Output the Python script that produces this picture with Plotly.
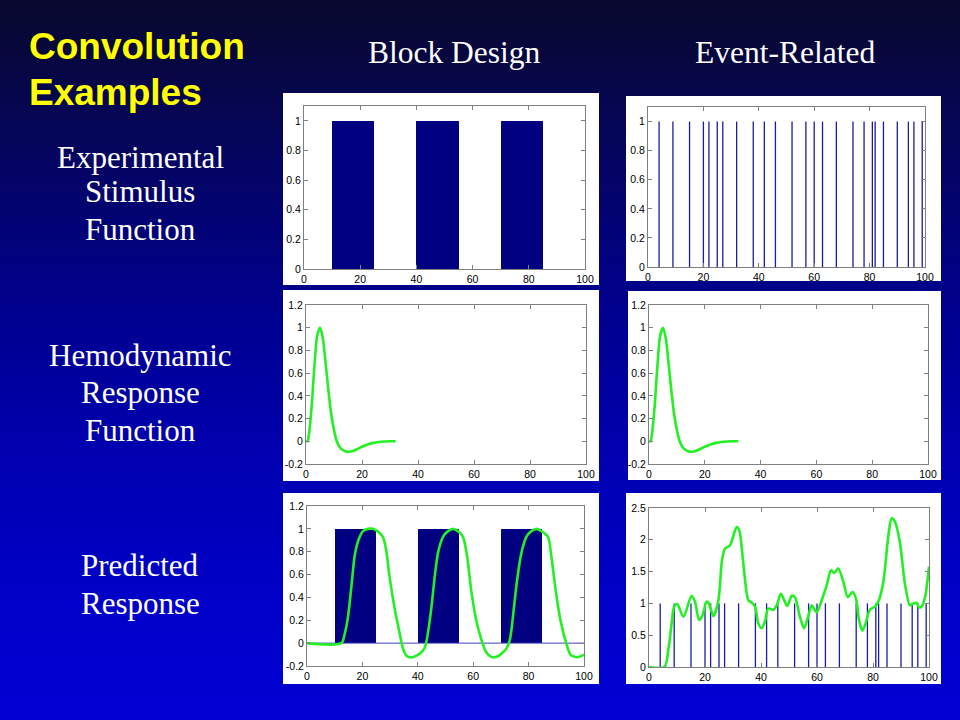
import plotly.graph_objects as go

# ---------------- data ----------------
T_START, T_END = 0, 100

block_onsets = [10, 40, 70]
block_offsets = [25, 55, 85]
block_amplitude = 1

event_times = [4, 9, 15, 20, 22, 25, 27, 32, 38, 42, 46, 52, 57, 60, 63, 68,
               74, 78, 81, 82, 85, 90, 94, 96, 99]
event_amplitude = 1

hrf_t = [0, 0.5, 1, 2, 3, 4, 5, 6, 7, 8, 9, 10, 11, 12, 13, 14, 15, 16, 17,
         18, 19, 20, 22, 24, 26, 28, 30, 32]
hrf_v = [0, 0.0, 0.05, 0.3, 0.66, 0.93, 1.0, 0.91, 0.69, 0.45, 0.24, 0.1, 0.0,
         -0.05, -0.075, -0.087, -0.092, -0.09, -0.083, -0.072, -0.06, -0.048,
         -0.028, -0.014, -0.006, -0.002, 0.0, 0.0]

block_pred_t = [0, 12.4, 13.6, 14.8, 16, 17.2, 18.4, 20.2, 22, 23.8, 25.4, 27.4,
                28.6, 29.8, 31.6, 33.5, 34.7, 35.9, 37.7, 39.5, 41.3, 42.5, 43.4,
                44.9, 46.1, 47.3, 49.1, 50.9, 52.7, 54.5, 56.3, 57.8, 59.3, 61.1,
                62.9, 64.7, 66.5, 68.4, 70.8, 72.2, 73.4, 74.7, 75.9, 77.4, 79.2,
                81, 82.8, 84.6, 87, 88.2, 89.8, 91.5, 93.7, 95.1, 96.6, 98.4, 100]
block_pred_v = [0, 0, 0.08, 0.23, 0.49, 0.76, 0.89, 0.98, 1.0, 1.0, 0.98, 0.93,
                0.81, 0.58, 0.31, 0.08, -0.05, -0.11, -0.125, -0.11, -0.08, -0.04,
                0.05, 0.31, 0.58, 0.79, 0.93, 0.98, 1.0, 0.98, 0.93, 0.76, 0.46,
                0.2, 0.035, -0.08, -0.12, -0.12, -0.08, -0.04, 0.05, 0.31, 0.56,
                0.79, 0.93, 0.98, 1.0, 0.98, 0.93, 0.76, 0.46, 0.2, -0.01, -0.1,
                -0.12, -0.12, -0.1]

event_pred_t = [0, 5.5, 6.9, 8.1, 9, 10.1, 12.3, 15.2, 16.4, 17.9, 19, 20.6, 21.4,
                23, 24.8, 26, 27.1, 28.9, 31.3, 32.3, 33.7, 35.5, 36.7, 37.9, 39,
                40.2, 41.4, 42.6, 44.4, 45.6, 47.1, 48.3, 49.4, 51, 52.1, 53.9,
                55.4, 56.7, 58.1, 58.9, 59.9, 61.7, 63.5, 65, 66.2, 67.6, 69.4, 71,
                72.7, 73.9, 75, 76.2, 77.4, 78.9, 80.7, 82.1, 83.7, 85.5, 86.7,
                87.9, 89.6, 91.4, 93.2, 94, 95.6, 96.4, 97.4, 98.6, 100]
event_pred_v = [0, 0, 0.27, 0.69, 0.95, 0.99, 0.79, 1.12, 1.03, 0.74, 0.8, 1.03,
                1.0, 0.8, 1.05, 1.65, 1.86, 1.91, 2.2, 2.14, 1.62, 1.05, 1.01, 0.95,
                0.69, 0.61, 0.71, 0.92, 0.9, 0.97, 1.15, 1.05, 0.96, 1.12, 1.1,
                0.79, 0.61, 0.77, 0.97, 0.92, 0.86, 1.05, 1.29, 1.52, 1.48, 1.55,
                1.34, 1.1, 1.18, 1.08, 0.74, 0.57, 0.69, 0.9, 0.95, 1.05, 1.34,
                2.07, 2.34, 2.28, 1.96, 1.31, 0.97, 0.99, 1.01, 0.94, 0.95, 1.1,
                1.58]

x_ticks = [0, 20, 40, 60, 80, 100]
x_tick_labels = ["0", "20", "40", "60", "80", "100"]
stim_y_ticks = [0, 0.2, 0.4, 0.6, 0.8, 1]
stim_y_labels = ["0", "0.2", "0.4", "0.6", "0.8", "1"]
hrf_y_ticks = [-0.2, 0, 0.2, 0.4, 0.6, 0.8, 1, 1.2]
hrf_y_labels = ["-0.2", "0", "0.2", "0.4", "0.6", "0.8", "1", "1.2"]
ev_y_ticks = [0, 0.5, 1, 1.5, 2, 2.5]
ev_y_labels = ["0", "0.5", "1", "1.5", "2", "2.5"]

title_lines = ["Convolution", "Examples"]
col_titles = ["Block Design", "Event-Related"]
row_titles = [["Experimental", "Stimulus", "Function"],
              ["Hemodynamic", "Response", "Function"],
              ["Predicted", "Response"]]

# ---------------- style / layout ----------------
W, H = 960, 720
GREEN = "#22f022"
NAVY = "#000080"
STEM = "#1c1ca0"
AXC = "#808080"

def px(x):
    return x / W

def py(y):
    return 1 - y / H

# axes rectangles in pixels: (x0, x1, y0_top, y1_bottom)
axes_px = {
    1: (304, 585, 106, 269),
    2: (648, 925, 107, 267),
    3: (306, 586, 305, 464),
    4: (649, 928, 305, 464),
    5: (307, 584, 506, 666),
    6: (649, 929, 508, 667),
}
panels_px = [
    (283, 599, 93, 285), (626, 941, 96, 281),
    (283, 599, 290, 481), (628, 941, 291, 480),
    (283, 599, 493, 684), (626, 941, 493, 684),
]

fig = go.Figure()

def ax_names(i):
    return ("x" if i == 1 else f"x{i}"), ("y" if i == 1 else f"y{i}")

# block stimulus bars
centers = [(a + b) / 2 for a, b in zip(block_onsets, block_offsets)]
widths = [b - a for a, b in zip(block_onsets, block_offsets)]
for i in (1, 5):
    xa, ya = ax_names(i)
    fig.add_trace(go.Bar(x=centers, y=[block_amplitude] * len(centers), width=widths,
                         marker=dict(color=NAVY, line=dict(width=0)),
                         xaxis=xa, yaxis=ya, showlegend=False, hoverinfo="skip"))
fig.add_trace(go.Scatter(x=[T_START, T_END], y=[0, 0], mode="lines",
                         line=dict(color="#4040c0", width=1),
                         xaxis="x5", yaxis="y5", showlegend=False, hoverinfo="skip"))

# event stems
sx, sy = [], []
for t in event_times:
    sx += [t, t, None]
    sy += [0, event_amplitude, None]
for i in (2, 6):
    xa, ya = ax_names(i)
    fig.add_trace(go.Scatter(x=sx, y=sy, mode="lines",
                             line=dict(color=STEM, width=1.3),
                             xaxis=xa, yaxis=ya, showlegend=False, hoverinfo="skip"))

# HRF
for i in (3, 4):
    xa, ya = ax_names(i)
    fig.add_trace(go.Scatter(x=hrf_t, y=hrf_v, mode="lines",
                             line=dict(color=GREEN, width=2.6, shape="spline", smoothing=0.8),
                             xaxis=xa, yaxis=ya, showlegend=False, hoverinfo="skip"))

# predicted responses
fig.add_trace(go.Scatter(x=block_pred_t, y=block_pred_v, mode="lines",
                         line=dict(color=GREEN, width=2.6, shape="spline", smoothing=0.8),
                         xaxis="x5", yaxis="y5", showlegend=False, hoverinfo="skip"))
fig.add_trace(go.Scatter(x=event_pred_t, y=event_pred_v, mode="lines",
                         line=dict(color=GREEN, width=2.6, shape="spline", smoothing=0.8),
                         xaxis="x6", yaxis="y6", showlegend=False, hoverinfo="skip"))

yspec = {
    1: ([0, 1.1], stim_y_ticks, stim_y_labels),
    2: ([0, 1.1], stim_y_ticks, stim_y_labels),
    3: ([-0.2, 1.2], hrf_y_ticks, hrf_y_labels),
    4: ([-0.2, 1.2], hrf_y_ticks, hrf_y_labels),
    5: ([-0.2, 1.2], hrf_y_ticks, hrf_y_labels),
    6: ([0, 2.5], ev_y_ticks, ev_y_labels),
}

layout = dict(
    template="none",
    width=W, height=H, autosize=False,
    margin=dict(l=0, r=0, t=0, b=0, pad=0, autoexpand=False),
    paper_bgcolor="rgb(0,0,150)",
    plot_bgcolor="white",
    bargap=0,
    showlegend=False,
)

tickfont = dict(family="Liberation Sans, Arial, sans-serif", size=10.5, color="black")
for i, (x0, x1, y0, y1) in axes_px.items():
    xk = "xaxis" if i == 1 else f"xaxis{i}"
    yk = "yaxis" if i == 1 else f"yaxis{i}"
    yr, yt, yl = yspec[i]
    layout[xk] = dict(domain=[px(x0), px(x1)], range=[T_START, T_END],
                      anchor=ax_names(i)[1], automargin=False, fixedrange=True,
                      tickvals=x_ticks, ticktext=x_tick_labels,
                      ticks="inside", ticklen=4, tickcolor=AXC,
                      showline=True, linecolor=AXC, linewidth=1, mirror="ticks",
                      showgrid=False, zeroline=False, tickfont=tickfont)
    layout[yk] = dict(domain=[py(y1), py(y0)], range=yr,
                      anchor=ax_names(i)[0], automargin=False, fixedrange=True,
                      tickvals=yt, ticktext=yl,
                      ticks="inside", ticklen=4, tickcolor=AXC,
                      showline=True, linecolor=AXC, linewidth=1, mirror="ticks",
                      showgrid=False, zeroline=False, tickfont=tickfont)

# gradient background strips
stops = [(0, (8, 8, 45)), (150, (5, 5, 95)), (300, (0, 0, 140)),
         (450, (0, 0, 175)), (600, (0, 0, 200)), (720, (0, 0, 212))]

def col_at(y):
    for (ya, ca), (yb, cb) in zip(stops[:-1], stops[1:]):
        if ya <= y <= yb:
            f = (y - ya) / (yb - ya)
            return "rgb(%d,%d,%d)" % tuple(round(a + (b - a) * f) for a, b in zip(ca, cb))
    return "rgb(%d,%d,%d)" % stops[-1][1]

shapes = []
step = 6
for y in range(0, H, step):
    yb = y + step + 0.5 if y + step < H else H + 40
    shapes.append(dict(type="rect", xref="paper", yref="paper", layer="below",
                       x0=-0.05, x1=1.05, y0=py(yb), y1=py(y if y > 0 else -40),
                       fillcolor=col_at(y + step / 2), line=dict(width=0)))
for (x0, x1, y0, y1) in panels_px:
    shapes.append(dict(type="rect", xref="paper", yref="paper", layer="below",
                       x0=px(x0), x1=px(x1), y0=py(y1), y1=py(y0),
                       fillcolor="white", line=dict(width=0)))
layout["shapes"] = shapes

ann = []
for txt, y in zip(title_lines, [47, 92]):
    ann.append(dict(text="<b>%s</b>" % txt, x=px(27), y=py(47 if txt == title_lines[0] else 92),
                    xref="paper", yref="paper",
                    xanchor="left", yanchor="middle", showarrow=False,
                    font=dict(family="Liberation Sans, Arial, sans-serif", size=37, color="#ffff00")))
serif_col = dict(family="Liberation Serif, Times New Roman, serif", size=31.5, color="white")
serif_row = dict(family="Liberation Serif, Times New Roman, serif", size=31, color="white")
for txt, x in zip(col_titles, [454, 785]):
    ann.append(dict(text=txt, x=px(x), y=py(53), xref="paper", yref="paper",
                    xanchor="center", yanchor="middle", showarrow=False, font=serif_col))
row_y = [[157, 192, 230], [355, 393, 430], [565, 603]]
for lines, ys in zip(row_titles, row_y):
    for txt, y in zip(lines, ys):
        ann.append(dict(text=txt, x=px(140), y=py(y), xref="paper", yref="paper",
                        xanchor="center", yanchor="middle", showarrow=False, font=serif_row))
layout["annotations"] = ann

fig.update_layout(**layout)
fig.write_html("out.html", config={"displayModeBar": False, "responsive": False},
               post_script="document.body.style.margin='0';document.body.style.overflow='hidden';")
